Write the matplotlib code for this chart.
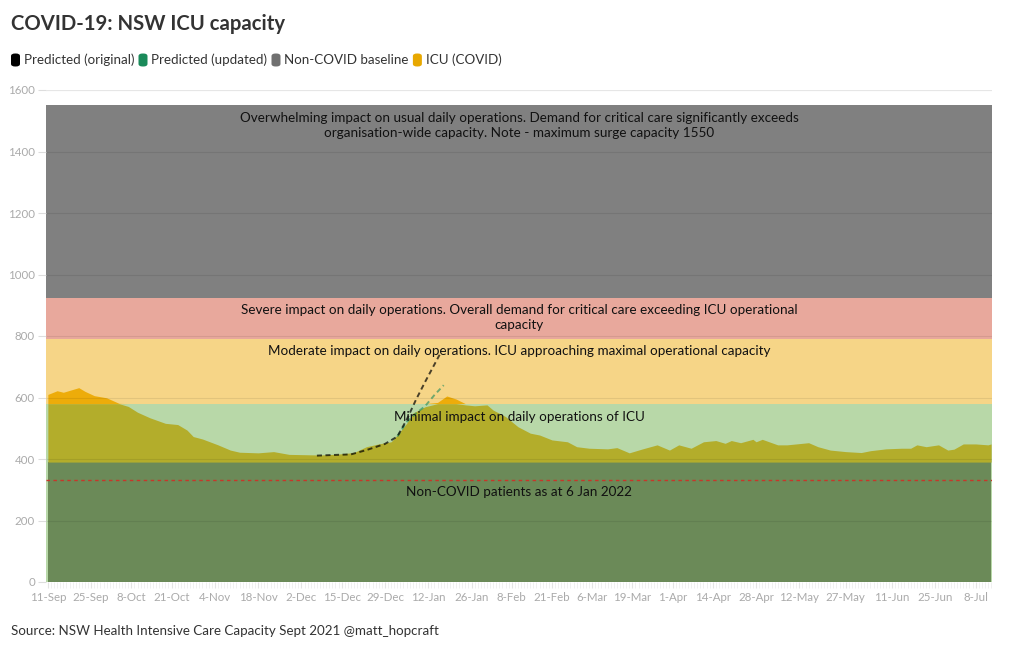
import matplotlib
matplotlib.use("Agg")
import matplotlib.pyplot as plt
import numpy as np
import pandas as pd
from matplotlib.patches import FancyBboxPatch

# ---------------- data ----------------
icu_dates = ["2021-09-11", "2021-09-14", "2021-09-16", "2021-09-19", "2021-09-21", "2021-09-23",
             "2021-09-26", "2021-09-30", "2021-10-04", "2021-10-07", "2021-10-10", "2021-10-14",
             "2021-10-19", "2021-10-23", "2021-10-26", "2021-10-28", "2021-10-31", "2021-11-05",
             "2021-11-09", "2021-11-12", "2021-11-18", "2021-11-23", "2021-11-28", "2021-12-03",
             "2021-12-08", "2021-12-14", "2021-12-19", "2021-12-23", "2021-12-27", "2021-12-31",
             "2022-01-02", "2022-01-05", "2022-01-07", "2022-01-11", "2022-01-15", "2022-01-18",
             "2022-01-21", "2022-01-24", "2022-01-27", "2022-01-31", "2022-02-02", "2022-02-06",
             "2022-02-10", "2022-02-14", "2022-02-17", "2022-02-21", "2022-02-26", "2022-03-01",
             "2022-03-05", "2022-03-11", "2022-03-14", "2022-03-18", "2022-03-22", "2022-03-27",
             "2022-03-31", "2022-04-03", "2022-04-07", "2022-04-11", "2022-04-15", "2022-04-18",
             "2022-04-20", "2022-04-23", "2022-04-27", "2022-04-28", "2022-04-30", "2022-05-05",
             "2022-05-08", "2022-05-11", "2022-05-15", "2022-05-18", "2022-05-22", "2022-05-27",
             "2022-06-01", "2022-06-04", "2022-06-09", "2022-06-14", "2022-06-17", "2022-06-19",
             "2022-06-22", "2022-06-26", "2022-06-29", "2022-07-01", "2022-07-04", "2022-07-08",
             "2022-07-12", "2022-07-13"]
icu_covid = [220, 232, 227, 236, 242, 230, 216, 209, 191, 181, 162, 144, 126, 122, 104, 83, 75,
             56, 39, 32, 30, 34, 25, 24, 23, 26, 31, 50, 59, 66, 88, 126, 159, 180, 194, 215, 205,
             186, 183, 186, 169, 148, 115, 94, 88, 72, 66, 50, 45, 43, 47, 30, 42, 56, 39, 56, 45,
             66, 70, 61, 70, 63, 74, 66, 74, 56, 56, 59, 63, 50, 39, 34, 31, 37, 43, 45, 45, 56,
             50, 56, 39, 42, 59, 59, 56, 59]
non_covid_baseline = 390

pred_orig_dates = ["2021-12-07", "2021-12-12", "2021-12-18", "2021-12-23", "2021-12-29",
                   "2022-01-02", "2022-01-05", "2022-01-08", "2022-01-11", "2022-01-16"]
pred_orig_total = [411, 413, 415, 429, 449, 473, 527, 592, 651, 745]

pred_upd_dates = ["2022-01-02", "2022-01-05", "2022-01-08", "2022-01-11", "2022-01-14", "2022-01-17"]
pred_upd_total = [473, 520, 548, 572, 608, 640]

non_covid_patients_6jan = 332

band_edges = [0, 390, 580, 790, 925, 1550]
band_texts = ["", "Minimal impact on daily operations of ICU",
              "Moderate impact on daily operations. ICU approaching maximal operational capacity",
              "Severe impact on daily operations. Overall demand for critical care exceeding ICU operational\ncapacity",
              "Overwhelming impact on usual daily operations. Demand for critical care significantly exceeds\norganisation-wide capacity. Note - maximum surge capacity 1550"]
band_text_y = [None, 536, 751, 860, 1484]

tick_dates = ["2021-09-11", "2021-09-25", "2021-10-08", "2021-10-21", "2021-11-04", "2021-11-18",
              "2021-12-02", "2021-12-15", "2021-12-29", "2022-01-12", "2022-01-26", "2022-02-08",
              "2022-02-21", "2022-03-06", "2022-03-19", "2022-04-01", "2022-04-14", "2022-04-28",
              "2022-05-12", "2022-05-27", "2022-06-11", "2022-06-25", "2022-07-08"]
tick_labels = ["11-Sep", "25-Sep", "8-Oct", "21-Oct", "4-Nov", "18-Nov", "2-Dec", "15-Dec",
               "29-Dec", "12-Jan", "26-Jan", "8-Feb", "21-Feb", "6-Mar", "19-Mar", "1-Apr",
               "14-Apr", "28-Apr", "12-May", "27-May", "11-Jun", "25-Jun", "8-Jul"]
y_ticks = [0, 200, 400, 600, 800, 1000, 1200, 1400, 1600]

legend_labels = ["Predicted (original)", "Predicted (updated)", "Non-COVID baseline", "ICU (COVID)"]
legend_colors = ["#000000", "#1a8a5a", "#707070", "#e8a800"]

# ---------------- styles ----------------
FONT = ["Lato", "DejaVu Sans"]
plt.rcParams["font.family"] = FONT
band_colors = ["#b8d8a8", "#b8d8a8", "#f6d587", "#e8a89c", "#808080"]
baseline_color = "#6b8a58"
olive = "#b3ad2b"
orange = "#edac0a"

t0 = pd.Timestamp("2021-09-11")
def days(ds):
    return np.array([(pd.Timestamp(d) - t0).days for d in ds], dtype=float)

x_icu = days(icu_dates)
total = non_covid_baseline + np.array(icu_covid, dtype=float)
assert len(x_icu) == len(total)

fig = plt.figure(figsize=(10.2, 6.5), dpi=100)
ax = fig.add_axes([46 / 1020, 68 / 650, 946 / 1020, 492 / 650])

xmin, xmax = -0.6, 305.3
ax.set_xlim(xmin, xmax)
ax.set_ylim(0, 1600)

# bands
for i in range(len(band_colors)):
    ax.axhspan(band_edges[i], band_edges[i + 1], color=band_colors[i], lw=0, zorder=1)

# non-COVID baseline area
ax.fill_between(x_icu, 0, np.full_like(total, non_covid_baseline), color=baseline_color, lw=0, zorder=2)
# ICU (COVID) stacked on non-COVID baseline
ax.fill_between(x_icu, band_edges[1], np.minimum(total, band_edges[2]), color=olive, lw=0, zorder=2)
upper = np.clip(total, band_edges[2], band_edges[3])
ax.fill_between(x_icu, band_edges[2], upper, color=orange, lw=0, zorder=2)

# gridlines
for yt in y_ticks:
    ax.axhline(yt, color="black", alpha=0.08, lw=0.8, zorder=3)
ax.axhline(1600, color="#e6e6e6", lw=0.8, zorder=3)

# predictions
ax.plot(days(pred_upd_dates), pred_upd_total, color="#1a8a5a", alpha=0.6, lw=1.4,
        ls=(0, (2.6, 1.8)), zorder=4)
ax.plot(days(pred_orig_dates), pred_orig_total, color="black", alpha=0.7, lw=1.4,
        ls=(0, (2.6, 1.8)), zorder=5)

# non-covid line
ax.axhline(non_covid_patients_6jan, color="#c8362a", lw=1.0, ls=(0, (2.5, 2.5)), zorder=4)

# band texts
xc = (xmin + xmax) / 2
for txt, yy in zip(band_texts, band_text_y):
    if txt:
        ax.text(xc, yy, txt, ha="center", va="center", fontsize=9.75, color="#111",
                linespacing=1.3, zorder=6)
ax.text(xc, 293, "Non-COVID patients as at 6 Jan 2022", ha="center", va="center",
        fontsize=9.75, color="#111", zorder=6)

# axes styling
for s in ax.spines.values():
    s.set_visible(False)
ax.set_yticks(y_ticks)
ax.set_yticklabels([str(v) for v in y_ticks])
ax.set_xticks(days(tick_dates))
ax.set_xticklabels(tick_labels)
ax.set_xticks(np.arange(0, 306, 1), minor=True)
ax.tick_params(axis="y", length=6, color="#dddddd", labelcolor="#aaaaaa", labelsize=8.3, pad=2)
ax.tick_params(axis="x", which="major", length=4, color="#e4e4e4", labelcolor="#aaaaaa",
               labelsize=8.3, pad=3)
ax.tick_params(axis="x", which="minor", length=4, color="#eeeeee", width=0.6)

# title
fig.text(11 / 1020, 1 - 24 / 650, "COVID-19: NSW ICU capacity", ha="left", va="center",
         fontsize=14.6, fontweight="bold", color="#333333")

# legend (laid out left to right)
renderer = fig.canvas.get_renderer()
ly = 1 - 60 / 650
px = 11
for label, col in zip(legend_labels, legend_colors):
    box = FancyBboxPatch((px / 1020, ly - 6.5 / 650), 9 / 1020, 13 / 650,
                         boxstyle="round,pad=0,rounding_size=0.004",
                         transform=fig.transFigure, facecolor=col, edgecolor="none")
    fig.patches.append(box)
    t = fig.text((px + 13) / 1020, ly, label, ha="left", va="center", fontsize=9.6, color="#333333")
    w = t.get_window_extent(renderer=renderer).width
    px = px + 13 + w + 4

# source
fig.text(11 / 1020, 1 - 631 / 650, "Source: NSW Health Intensive Care Capacity Sept 2021 @matt_hopcraft",
         ha="left", va="center", fontsize=9.6, color="#333333")

fig.savefig("out.png", dpi=100)
